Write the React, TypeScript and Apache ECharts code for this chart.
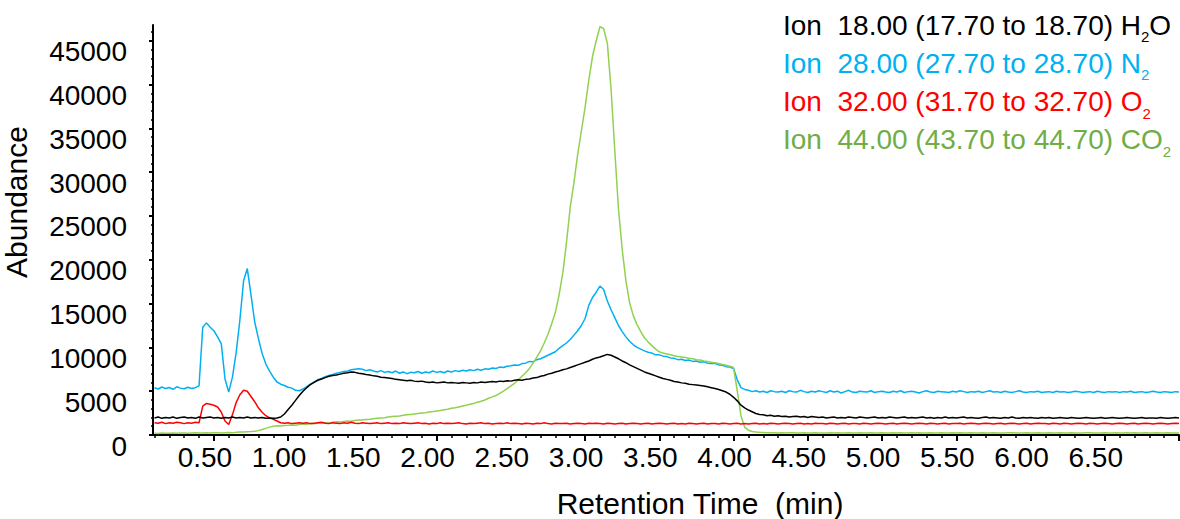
import { useEffect, useRef } from "react";
import * as echarts from "echarts";

// sampling grid of the traces (minutes)
const T0 = 0.1;
const DT = 0.025;

const xTickValues = [0.5, 1.0, 1.5, 2.0, 2.5, 3.0, 3.5, 4.0, 4.5, 5.0, 5.5, 6.0, 6.5, 7.0];
const xLabelValues = [0.5, 1.0, 1.5, 2.0, 2.5, 3.0, 3.5, 4.0, 4.5, 5.0, 5.5, 6.0, 6.5];
const yLabelValues = [0, 5000, 10000, 15000, 20000, 25000, 30000, 35000, 40000, 45000];

// Ion 28 (N2)
const n2 = [
  5400, 5250, 5480, 5300, 5420, 5200, 5500, 5350, 5280, 5450, 5300, 5400, 5600, 12300, 12800, 12300, 11900, 11200, 10400, 6400,
  4900, 6600, 9400, 13100, 17600, 19000, 16000, 12900, 11000, 9300, 8100, 7300, 6600, 6050, 5800, 5650, 5450, 5350, 5100, 5050,
  5250, 5500, 5800, 6050, 6300, 6450, 6650, 6800, 6900, 7050, 7150, 7250, 7300, 7450, 7500, 7550, 7500, 7350, 7450, 7300,
  7200, 7350, 7150, 7250, 7100, 7300, 7050, 7200, 7000, 7150, 7100, 7250, 7050, 7200, 7100, 7300, 7150, 7250, 7100, 7300,
  7200, 7350, 7250, 7400, 7300, 7450, 7350, 7500, 7400, 7550, 7500, 7650, 7600, 7750, 7700, 7850, 7900, 8000, 7950, 8150,
  8200, 8400, 8350, 8600, 8700, 8900, 9100, 9300, 9500, 9900, 10200, 10500, 10900, 11400, 11900, 12500, 13300, 14800, 15700, 16300,
  17000, 16600, 15300, 14300, 13400, 12500, 11800, 11200, 10700, 10300, 10000, 9800, 9600, 9450, 9350, 9150, 9150, 9000, 8950, 8800,
  8750, 8600, 8650, 8500, 8550, 8400, 8450, 8300, 8350, 8200, 8150, 8150, 8000, 7950, 7800, 7750, 7600, 6300, 5400, 5200,
  5100, 4950, 5050, 4900, 5000, 4850, 5050, 4950, 4900, 5000, 4850, 5050, 4950, 4900, 5100, 4950, 4850, 5000, 4900, 5050,
  4950, 4850, 5050, 4900, 5000, 4800, 4950, 5100, 4900, 4850, 5000, 4950, 4900, 5050, 4850, 4950, 5000, 4900, 4850, 5000,
  4900, 5050, 4850, 4950, 5000, 4900, 4800, 4950, 5050, 4900, 4850, 5000, 4950, 4900, 4850, 5000, 4900, 5050, 4950, 4850,
  4950, 4900, 5000, 4850, 4950, 5050, 4900, 4950, 4850, 5000, 4900, 4850, 4950, 5050, 4900, 4850, 4950, 4900, 5000, 4850,
  4900, 4950, 4850, 5000, 4900, 4950, 4850, 4900, 5000, 4950, 4850, 4900, 4950, 4850, 5000, 4900, 4850, 4950, 4900, 4950,
  4850, 4950, 4900, 5000, 4850, 4900, 4950, 4850, 4900, 5000, 4900, 4850, 4950, 4900, 4850, 4950, 4900,
];

// Ion 18 (H2O)
const h2o = [
  1950, 2050, 1900, 2000, 1950, 2050, 1900, 2000, 2050, 1950, 2000, 1900, 2050, 1950, 2000, 2050, 1950, 2000, 1900, 2000,
  1950, 2050, 1950, 2000, 1950, 2050, 1950, 2000, 1950, 2000, 1900, 1950, 1900, 1950, 2050, 2400, 2900, 3400, 3950, 4500,
  5000, 5400, 5750, 6000, 6250, 6400, 6550, 6700, 6800, 6850, 6950, 7050, 7100, 7200, 7150, 7050, 7000, 6900, 6850, 6750,
  6700, 6600, 6550, 6500, 6450, 6350, 6300, 6250, 6200, 6250, 6150, 6100, 6150, 6050, 6000, 6050, 5950, 6000, 6050, 5950,
  6000, 5950, 5900, 6000, 5950, 5900, 6000, 5950, 6050, 6000, 6050, 6100, 6050, 6150, 6100, 6200, 6150, 6250, 6300, 6250,
  6350, 6400, 6500, 6550, 6700, 6800, 6950, 7050, 7200, 7300, 7450, 7550, 7700, 7850, 8000, 8150, 8300, 8450, 8650, 8800,
  8900, 9050, 9200, 9100, 8900, 8700, 8450, 8250, 8000, 7800, 7600, 7400, 7200, 7050, 6900, 6750, 6600, 6450, 6350, 6250,
  6100, 6050, 5950, 5900, 5800, 5750, 5700, 5650, 5600, 5500, 5400, 5300, 5200, 5050, 4900, 4650, 4300, 3900, 3400, 3100,
  2850, 2650, 2450, 2350, 2300, 2200, 2250, 2150, 2200, 2100, 2150, 2050, 2100, 2150, 2050, 2100, 2000, 2100, 2050, 2000,
  2050, 1950, 2000, 2050, 1950, 2000, 1950, 2050, 2000, 1950, 2050, 2000, 1950, 2000, 2050, 1950, 2000, 1950, 2050, 2000,
  1950, 2000, 2050, 1950, 2000, 1950, 2000, 2050, 1950, 2000, 1900, 2000, 1950, 2050, 1950, 2000, 1950, 2000, 2050, 1950,
  2000, 1950, 1900, 2000, 2050, 1950, 2000, 1950, 1900, 2000, 1950, 2050, 1950, 1900, 2000, 1950, 2000, 1950, 1900, 2000,
  1950, 2000, 1900, 1950, 2000, 1950, 1900, 2000, 1950, 1900, 1950, 2000, 1950, 1900, 1950, 2000, 1900, 1950, 2000, 1950,
  1900, 1950, 2000, 1950, 1900, 1950, 2000, 1900, 1950, 1950, 1900, 2000, 1950, 1900, 1950, 2000, 1950,
];

// Ion 32 (O2)
const o2 = [
  1400, 1350, 1450, 1300, 1400, 1350, 1450, 1400, 1300, 1400, 1350, 1450, 1400, 3300, 3600, 3500, 3400, 3200, 2600, 1600,
  1200, 2300, 3700, 4600, 5100, 5000, 4400, 3800, 3100, 2600, 2200, 1950, 1800, 1600, 1400, 1350, 1400, 1300, 1350, 1400,
  1350, 1400, 1300, 1350, 1400, 1450, 1350, 1300, 1400, 1350, 1300, 1400, 1350, 1450, 1350, 1300, 1400, 1350, 1300, 1350,
  1400, 1300, 1350, 1400, 1300, 1350, 1300, 1400, 1350, 1300, 1350, 1400, 1300, 1350, 1250, 1350, 1300, 1400, 1300, 1350,
  1300, 1350, 1400, 1300, 1250, 1350, 1300, 1350, 1400, 1300, 1350, 1250, 1300, 1350, 1300, 1400, 1300, 1350, 1300, 1250,
  1350, 1300, 1250, 1350, 1300, 1400, 1300, 1250, 1350, 1300, 1300, 1350, 1250, 1300, 1350, 1300, 1250, 1350, 1300, 1350,
  1300, 1250, 1350, 1300, 1250, 1300, 1350, 1250, 1300, 1350, 1300, 1250, 1300, 1350, 1250, 1300, 1350, 1300, 1250, 1300,
  1350, 1250, 1300, 1250, 1350, 1300, 1250, 1300, 1350, 1250, 1300, 1300, 1250, 1350, 1300, 1250, 1300, 1350, 1250, 1300,
  1250, 1300, 1350, 1250, 1300, 1250, 1350, 1300, 1250, 1300, 1350, 1300, 1250, 1300, 1350, 1250, 1300, 1250, 1350, 1300,
  1300, 1250, 1350, 1300, 1250, 1300, 1350, 1250, 1300, 1300, 1250, 1350, 1300, 1250, 1300, 1350, 1300, 1250, 1300, 1350,
  1250, 1300, 1350, 1300, 1250, 1300, 1350, 1300, 1250, 1350, 1300, 1250, 1300, 1350, 1250, 1300, 1300, 1350, 1250, 1300,
  1350, 1300, 1250, 1300, 1350, 1300, 1250, 1300, 1350, 1250, 1300, 1350, 1300, 1250, 1300, 1350, 1250, 1300, 1350, 1300,
  1300, 1250, 1350, 1300, 1250, 1350, 1300, 1250, 1300, 1350, 1300, 1250, 1350, 1300, 1250, 1300, 1350, 1300, 1250, 1300,
  1350, 1300, 1250, 1300, 1350, 1250, 1300, 1350, 1300, 1250, 1300, 1350, 1300, 1250, 1300, 1350, 1300,
];

// Ion 44 (CO2)
const co2 = [
  200, 180, 220, 190, 210, 230, 200, 220, 240, 210, 230, 250, 220, 240, 260, 230, 250, 270, 240, 260,
  280, 260, 300, 330, 350, 380, 400, 430, 500, 620, 760, 900, 1000, 1050, 1020, 1080, 1100, 1150, 1120, 1200,
  1250, 1220, 1300, 1280, 1350, 1330, 1400, 1380, 1450, 1500, 1480, 1550, 1600, 1580, 1650, 1700, 1720, 1780, 1800, 1850,
  1900, 1950, 1980, 2050, 2100, 2150, 2180, 2250, 2300, 2350, 2400, 2450, 2500, 2550, 2620, 2680, 2750, 2800, 2880, 2950,
  3050, 3100, 3200, 3300, 3400, 3500, 3600, 3750, 3850, 4000, 4200, 4350, 4500, 4750, 5000, 5300, 5600, 5900, 6300, 6700,
  7100, 7600, 8200, 8900, 9600, 10500, 11500, 12700, 14000, 16000, 18500, 22000, 26000, 28800, 32000, 34700, 37400, 40500, 43200, 45000,
  46600, 46400, 44700, 39500, 32500, 25800, 21200, 17600, 15100, 13600, 12600, 11800, 11100, 10600, 10200, 9800, 9500, 9350, 9250, 9150,
  9050, 8950, 8900, 8850, 8750, 8700, 8600, 8550, 8450, 8400, 8300, 8250, 8150, 8050, 7950, 7850, 7700, 5000, 2200, 900,
  550, 400, 330, 300, 280, 260, 250, 270, 240, 260, 230, 250, 260, 240, 230, 250, 240, 220, 250, 230,
  240, 220, 250, 230, 260, 240, 220, 250, 230, 240, 260, 230, 220, 250, 240, 230, 250, 220, 240, 260,
  230, 250, 240, 220, 250, 230, 260, 240, 220, 250, 230, 240, 250, 220, 240, 260, 230, 250, 240, 220,
  250, 230, 240, 260, 220, 240, 250, 230, 240, 220, 250, 260, 230, 240, 220, 250, 230, 240, 260, 230,
  240, 250, 220, 240, 260, 230, 240, 250, 220, 240, 230, 250, 260, 230, 240, 220, 250, 240, 230, 250,
  230, 240, 260, 220, 250, 240, 230, 250, 220, 240, 260, 230, 240, 250, 220, 240, 230,
];

const seriesNames = ["H2O", "N2", "O2", "CO2"];
const lineColors = ["#000000", "#00b0f0", "#ff0000", "#92d050"];
const legendColors = ["#000000", "#00b0f0", "#ff0000", "#70ad47"];
const legendMain = [
  "Ion\u00a0\u00a018.00 (17.70 to 18.70) H",
  "Ion\u00a0\u00a028.00 (27.70 to 28.70) N",
  "Ion\u00a0\u00a032.00 (31.70 to 32.70) O",
  "Ion\u00a0\u00a044.00 (43.70 to 44.70) CO",
];
const legendSub = ["2", "2", "2", "2"];
const legendTail = ["O", "", "", ""];

const X_MIN = 0.09;
const X_MAX = 7.0;
const Y_MAX = 46800;

const FONT = "'Liberation Sans', Arial, Helvetica, sans-serif";

function toPairs(vals: number[]) {
  return vals.map((v, i) => [Math.round((T0 + i * DT) * 1000) / 1000, v]);
}

export default function App() {
  const ref = useRef<HTMLDivElement>(null);

  useEffect(() => {
    const chart = echarts.init(ref.current as HTMLDivElement, null, { renderer: "svg" });

    const xMinor: number[] = [];
    for (let k = 1; k <= 70; k++) xMinor.push(k / 10);
    const yMinor: number[] = [];
    for (let k = 0; k <= 46; k++) yMinor.push(k * 1000);

    const grid = { left: 153, top: 25, right: 1, bottom: 84, containLabel: false };

    const traces = [
      { name: seriesNames[1], data: n2, color: lineColors[1] },
      { name: seriesNames[3], data: co2, color: lineColors[3] },
      { name: seriesNames[2], data: o2, color: lineColors[2] },
      { name: seriesNames[0], data: h2o, color: lineColors[0] },
    ];

    const graphic: any[] = [];
    for (let i = 0; i < 4; i++) {
      let text = `{m|${legendMain[i]}}{s|${legendSub[i]}}`;
      if (legendTail[i]) text += `{m|${legendTail[i]}}`;
      graphic.push({
        type: "text",
        left: 783,
        top: 6 + i * 38.3,
        style: {
          text,
          fill: legendColors[i],
          fontFamily: FONT,
          fontSize: 28,
          rich: {
            m: { fontSize: 28, lineHeight: 40, fill: legendColors[i], fontFamily: FONT },
            s: { fontSize: 15, lineHeight: 15, padding: [23, 0, 0, 0], fill: legendColors[i], fontFamily: FONT },
          },
        },
      });
    }
    graphic.push({
      type: "text",
      x: 700,
      y: 503,
      style: {
        text: "Retention Time\u00a0\u00a0(min)",
        fill: "#000",
        fontFamily: FONT,
        fontSize: 30,
        align: "center",
        verticalAlign: "middle",
      },
    });
    graphic.push({
      type: "text",
      x: 16,
      y: 202,
      rotation: Math.PI / 2,
      style: {
        text: "Abundance",
        fill: "#000",
        fontFamily: FONT,
        fontSize: 30,
        align: "center",
        verticalAlign: "middle",
      },
    });

    const option: any = {
      animation: false,
      backgroundColor: "#ffffff",
      grid: [grid, { ...grid }],
      xAxis: [
        {
          type: "value",
          gridIndex: 0,
          min: X_MIN,
          max: X_MAX,
          axisLine: { show: true, lineStyle: { color: "#000", width: 2 } },
          axisTick: { show: true, length: 6, customValues: xTickValues, lineStyle: { color: "#000", width: 2 } },
          axisLabel: {
            show: true,
            customValues: xLabelValues,
            formatter: (v: number) => v.toFixed(2),
            color: "#000",
            fontFamily: FONT,
            fontSize: 28,
            lineHeight: 34,
            margin: 5,
            padding: [0, 18, 0, 0],
          },
          splitLine: { show: false },
        },
        {
          type: "value",
          gridIndex: 1,
          min: X_MIN,
          max: X_MAX,
          axisLine: { show: false },
          axisTick: { show: true, length: 3, customValues: xMinor, lineStyle: { color: "#000", width: 1.5 } },
          axisLabel: { show: false },
          splitLine: { show: false },
        },
      ],
      yAxis: [
        {
          type: "value",
          gridIndex: 0,
          min: 0,
          max: Y_MAX,
          axisLine: { show: true, lineStyle: { color: "#000", width: 2 } },
          axisTick: { show: true, length: 4, customValues: yLabelValues, lineStyle: { color: "#000", width: 2 } },
          axisLabel: {
            show: true,
            customValues: yLabelValues,
            formatter: (v: number) => String(v),
            color: "#000",
            fontFamily: FONT,
            fontSize: 28,
            margin: 26,
            lineHeight: 22,
            verticalAlign: "top",
          },
          splitLine: { show: false },
        },
        {
          type: "value",
          gridIndex: 1,
          min: 0,
          max: Y_MAX,
          axisLine: { show: false },
          axisTick: { show: true, length: 2, customValues: yMinor, lineStyle: { color: "#000", width: 1.5 } },
          axisLabel: { show: false },
          splitLine: { show: false },
        },
      ],
      series: traces.map((tr) => ({
        name: tr.name,
        type: "line",
        xAxisIndex: 0,
        yAxisIndex: 0,
        data: toPairs(tr.data),
        showSymbol: false,
        symbol: "none",
        silent: true,
        lineStyle: { color: tr.color, width: 1.5 },
        itemStyle: { color: tr.color },
      })),
      graphic,
    };

    chart.setOption(option);
    return () => chart.dispose();
  }, []);

  return (
    <div
      ref={ref}
      style={{ position: "fixed", left: 0, top: 0, width: 1180, height: 519, background: "#fff" }}
    />
  );
}
